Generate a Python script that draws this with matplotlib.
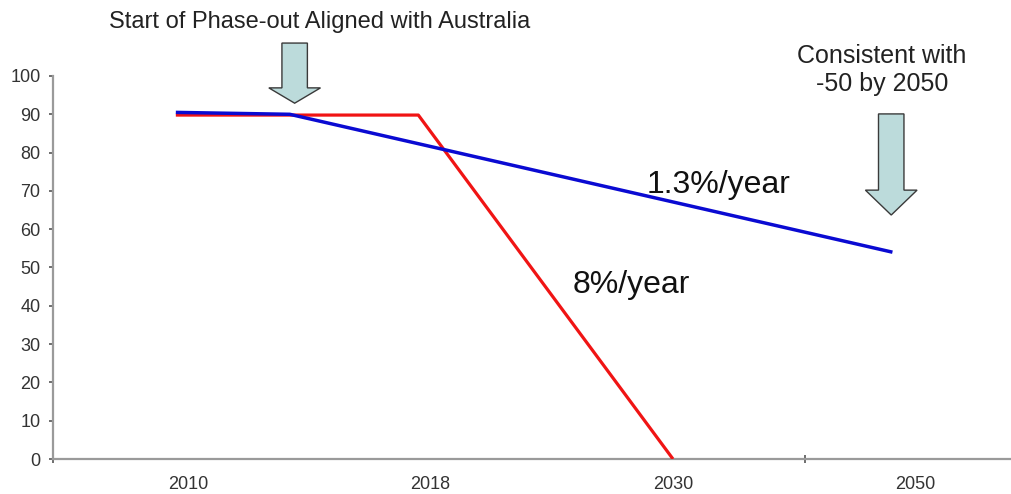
"""
Phase-out pathways: 1.3%/year versus 8%/year decline
"""

import matplotlib.pyplot as plt
from matplotlib.patches import Polygon

# ---------------------------------------------------------------------------- #
# Data (x is the category position along the axis)
# ---------------------------------------------------------------------------- #

tick_labels = ['2010', '2018', '2030', '2050']
label_positions = [1, 3, 5, 7]
tick_mark_positions = [-0.11, 1, 3, 5, 6.09]

red_x = [0.9, 2.9, 5.0]
red_y = [89.8, 89.8, 0]

blue_x = [0.9, 1.84, 6.81]
blue_y = [90.5, 90.0, 54.0]

y_ticks = list(range(0, 101, 10))

# Block arrows: (centre x, top y, head start y, tip y)
arrows = [(1.88, 108.6, 96.9, 92.9),
          (6.80, 90.1, 70.2, 63.7)]
shaft_half = 0.105
head_half = 0.213

plt.rcParams['font.family'] = ['Liberation Sans', 'DejaVu Sans']

fig = plt.figure(figsize=(10.12, 4.94), dpi=100)
ax = fig.add_axes([53 / 1012, 35 / 494, 959 / 1012, 383 / 494])

ax.plot(red_x, red_y, color='#f01414', lw=2.3, solid_capstyle='butt', zorder=3)
ax.plot(blue_x, blue_y, color='#0a0ad2', lw=2.5, solid_capstyle='butt', zorder=4)

for cx, top, head, tip in arrows:
    verts = [(cx - shaft_half, top), (cx + shaft_half, top),
             (cx + shaft_half, head), (cx + head_half, head),
             (cx, tip), (cx - head_half, head),
             (cx - shaft_half, head)]
    ax.add_patch(Polygon(verts, closed=True, facecolor='#bcdbdb',
                         edgecolor='#3a3a3a', lw=1.0, clip_on=False, zorder=5))

ax.set_xlim(-0.113, 7.796)
ax.set_ylim(0, 100)

# Axis styling
for side in ['top', 'right']:
    ax.spines[side].set_visible(False)
for side in ['left', 'bottom']:
    ax.spines[side].set_color('#9a9a9a')
    ax.spines[side].set_linewidth(1.6)

ax.set_yticks(y_ticks)
ax.tick_params(axis='y', length=3, width=1.2, color='#555555', pad=6,
               labelsize=13, labelcolor='#333333')

ax.set_xticks(label_positions)
ax.set_xticklabels(tick_labels)
ax.set_xticks(tick_mark_positions, minor=True)
ax.tick_params(axis='x', which='major', length=0, pad=12,
               labelsize=13, labelcolor='#333333')
ax.tick_params(axis='x', which='minor', direction='inout', length=6,
               width=1.2, color='#555555')

# Annotations
fig.text(320 / 1012, 1 - 22 / 494, 'Start of Phase-out Aligned with Australia',
         ha='center', va='center', fontsize=17, color='#222222')
fig.text(882 / 1012, 1 - 70 / 494, 'Consistent with\n-50 by 2050',
         ha='center', va='center', fontsize=18, color='#222222',
         linespacing=1.2)
fig.text(719 / 1012, 1 - 185 / 494, '1.3%/year', ha='center', va='center',
         fontsize=23, color='#111111')
fig.text(631 / 1012, 1 - 285 / 494, '8%/year', ha='center', va='center',
         fontsize=23, color='#111111')

fig.savefig('out.png', dpi=100)
plt.close()
